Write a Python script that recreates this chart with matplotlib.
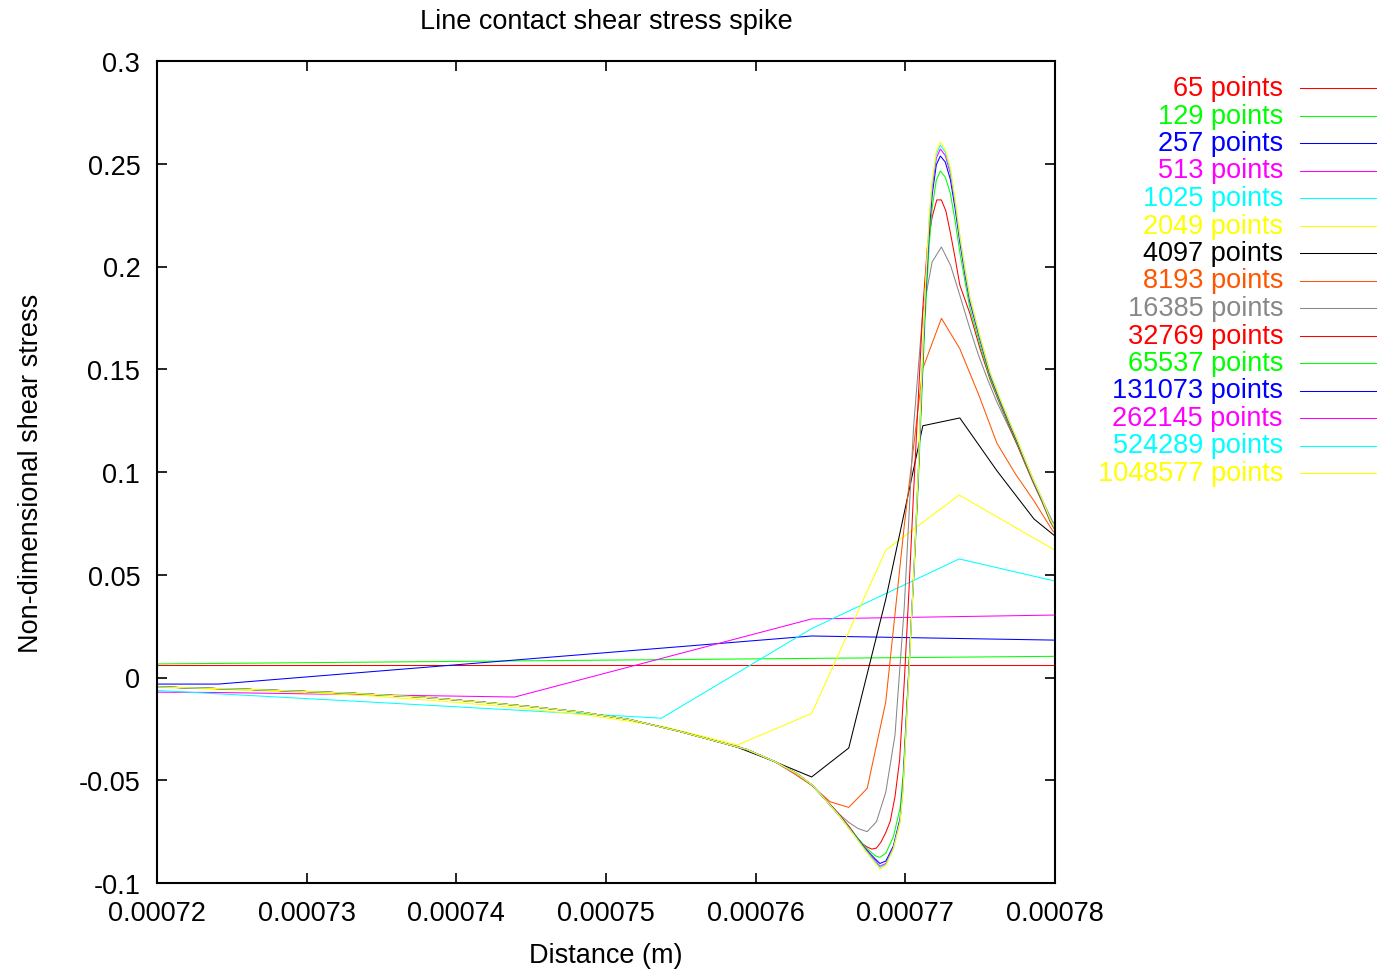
import matplotlib
matplotlib.use("Agg")
import matplotlib.pyplot as plt
from matplotlib.lines import Line2D
from matplotlib.ticker import FormatStrFormatter

plt.rcParams['font.family'] = ['Liberation Sans', 'DejaVu Sans']

# distances below are in micrometres, converted to metres when plotted
# shared approach to the spike (all fine meshes coincide here)
x_tail = [710.0, 720.0, 726.2, 732.9, 737.6, 741.6, 744.9, 748.3, 751.6, 754.9, 757.6]
y_tail = [-0.0035, -0.0046, -0.0058, -0.0076, -0.0095, -0.0119, -0.0141, -0.0168,
          -0.0205, -0.0262, -0.0315]

x_65 = [605.2, 763.74, 922.2]
y_65 = [0.0062, 0.0062, 0.0062]

x_129 = [684.5, 763.74, 842.9]
y_129 = [0.0044, 0.0093, 0.0142]

x_257 = [684.5, 724.1, 763.74, 803.4]
y_257 = [-0.0032, -0.0032, 0.0202, 0.0153]

x_513 = [684.5, 704.3, 724.1, 743.9, 763.74, 783.5]
y_513 = [-0.0058, -0.0065, -0.0073, -0.0095, 0.0285, 0.0308]

x_1025 = [704.3, 714.1, 724.0, 733.9, 743.8, 753.7, 763.74, 773.6, 783.5]
y_1025 = [-0.0010, -0.0040, -0.0079, -0.0118, -0.0158, -0.0198, 0.0238, 0.0577, 0.0410]

x_2049 = [714.2, 719.2, 724.1, 729.1, 734.0, 739.0, 743.9, 748.9, 753.8, 758.8,
          763.74, 768.7, 773.6, 778.6, 783.6]
y_2049 = [-0.0030, -0.0045, -0.0058, -0.0071, -0.0088, -0.0115, -0.0146, -0.0185,
          -0.0238, -0.0328, -0.0175, 0.0620, 0.0888, 0.0678, 0.0470]

x_4097 = [758.8, 761.28, 763.74, 766.22, 768.69, 771.17, 773.64, 776.12, 778.6, 781.07]
y_4097 = [-0.0340, -0.0410, -0.0484, -0.0343, 0.0380, 0.1225, 0.1263, 0.1006, 0.0771, 0.0625]

x_8193 = [758.8, 760.04, 761.28, 762.5, 763.74, 764.98, 766.22, 767.45, 768.69, 769.93,
          771.17, 772.41, 773.64, 774.88, 776.12, 777.36, 778.59, 779.83, 781.07]
y_8193 = [-0.0335, -0.0370, -0.0410, -0.0465, -0.0525, -0.0605, -0.0632, -0.0540, -0.0120,
          0.0740, 0.1504, 0.1748, 0.1600, 0.1380, 0.1140, 0.0990, 0.0860, 0.0715, 0.0630]

x_16385 = [759.4, 761.3, 762.8, 763.76, 764.63, 765.63, 766.22, 766.84, 767.45, 768.07,
           768.69, 769.31, 769.93, 770.55, 771.17, 771.79, 772.41, 773.03, 773.64, 774.26,
           774.88, 775.5, 776.12, 776.74, 777.36, 777.98, 778.59, 779.21, 779.83, 780.45,
           781.07]
y_16385 = [-0.0350, -0.0410, -0.0470, -0.0525, -0.0590, -0.0668, -0.0705, -0.0735, -0.0750,
           -0.0702, -0.0559, -0.0280, 0.0344, 0.1220, 0.1780, 0.2022, 0.2095, 0.2004, 0.1860,
           0.1710, 0.1570, 0.1450, 0.1340, 0.1245, 0.1150, 0.1055, 0.0955, 0.0855, 0.0760,
           0.0700, 0.0650]

x_32769 = [759.4, 761.3, 762.8, 763.76, 764.63, 765.63, 766.3, 766.84, 767.14, 767.45,
           767.76, 768.07, 768.38, 768.69, 768.99, 769.31, 769.62, 769.93, 770.24, 770.55,
           770.86, 771.17, 771.48, 771.79, 772.10, 772.41, 772.71, 773.02, 773.33, 773.64,
           774.32, 774.99, 775.66, 776.32, 776.99, 777.46, 778.0, 778.53, 779.13, 779.67,
           780.07, 781.0]
y_32769 = [-0.0350, -0.0410, -0.0470, -0.0525, -0.0590, -0.0670, -0.0730, -0.0785, -0.0810,
           -0.0825, -0.0835, -0.0830, -0.0800, -0.0755, -0.0700, -0.0580, -0.0400, -0.0020,
           0.0420, 0.0900, 0.1350, 0.1800, 0.2100, 0.2240, 0.2324, 0.2324, 0.2270, 0.2160,
           0.2040, 0.1910, 0.1770, 0.1600, 0.1450, 0.1330, 0.1215, 0.1135, 0.1040, 0.0950,
           0.0855, 0.0760, 0.0708, 0.0635]

# the finest meshes are drawn on a common set of read-off positions
x_fine = [759.4, 761.3, 762.8, 763.8, 764.6, 765.6, 766.6, 767.4, 768.0, 768.3, 768.7,
          769.2, 769.65, 769.85, 770.05, 770.19, 770.39, 770.59, 770.86, 771.06, 771.33,
          771.6, 771.8, 772.07, 772.34, 772.67, 773.01, 773.32, 773.65, 773.99, 774.32,
          774.99, 775.66, 776.32, 776.99, 777.46, 778.0, 778.53, 779.13, 779.67, 780.07, 781.0]
y_65537 = [-0.0350, -0.0410, -0.0470, -0.0525, -0.0590, -0.0672, -0.0762, -0.0830, -0.0868,
           -0.0875, -0.0855, -0.0775, -0.0635, -0.0475, -0.0200, -0.0015, 0.0255, 0.0520,
           0.0935, 0.1300, 0.1760, 0.2110, 0.2290, 0.2420, 0.2465, 0.2435, 0.2355, 0.2225,
           0.2065, 0.1925, 0.1795, 0.1620, 0.1458, 0.1337, 0.1222, 0.1143, 0.1047, 0.0955,
           0.0860, 0.0763, 0.0710, 0.0637]
y_131073 = [-0.0350, -0.0410, -0.0470, -0.0525, -0.0590, -0.0673, -0.0765, -0.0838, -0.0884,
            -0.0905, -0.0893, -0.0820, -0.0685, -0.0515, -0.0225, -0.0025, 0.0262, 0.0540,
            0.0975, 0.1355, 0.1825, 0.2180, 0.2353, 0.2495, 0.2538, 0.2508, 0.2423, 0.2285,
            0.2115, 0.1960, 0.1826, 0.1643, 0.1472, 0.1348, 0.1231, 0.1151, 0.1053, 0.0960,
            0.0865, 0.0767, 0.0712, 0.0639]
y_262145 = [-0.0350, -0.0410, -0.0470, -0.0525, -0.0590, -0.0673, -0.0766, -0.0842, -0.0892,
            -0.0918, -0.0905, -0.0828, -0.0695, -0.0530, -0.0240, -0.0040, 0.0260, 0.0548,
            0.0988, 0.1378, 0.1858, 0.2215, 0.2386, 0.2527, 0.2572, 0.2540, 0.2452, 0.2308,
            0.2133, 0.1975, 0.1838, 0.1651, 0.1478, 0.1353, 0.1235, 0.1155, 0.1056, 0.0962,
            0.0867, 0.0768, 0.0713, 0.0639]
y_524289 = [-0.0350, -0.0410, -0.0470, -0.0525, -0.0590, -0.0674, -0.0768, -0.0846, -0.0898,
            -0.0925, -0.0910, -0.0832, -0.0700, -0.0540, -0.0250, -0.0050, 0.0255, 0.0550,
            0.0995, 0.1390, 0.1875, 0.2235, 0.2405, 0.2545, 0.2591, 0.2556, 0.2467, 0.2320,
            0.2142, 0.1983, 0.1845, 0.1656, 0.1482, 0.1357, 0.1238, 0.1158, 0.1059, 0.0965,
            0.0869, 0.0770, 0.0714, 0.0640]
y_1048577 = [-0.0350, -0.0410, -0.0470, -0.0525, -0.0590, -0.0674, -0.0770, -0.0850, -0.0905,
             -0.0932, -0.0915, -0.0835, -0.0705, -0.0550, -0.0260, -0.0060, 0.0250, 0.0550,
             0.1000, 0.1400, 0.1890, 0.2250, 0.2420, 0.2560, 0.2606, 0.2570, 0.2480, 0.2330,
             0.2150, 0.1990, 0.1850, 0.1660, 0.1485, 0.1360, 0.1240, 0.1160, 0.1060, 0.0966,
             0.0870, 0.0771, 0.0715, 0.0640]

labels = ['65 points', '129 points', '257 points', '513 points', '1025 points', '2049 points',
          '4097 points', '8193 points', '16385 points', '32769 points', '65537 points',
          '131073 points', '262145 points', '524289 points', '1048577 points']
colors = ['#ff0000', '#00ff00', '#0000ff', '#ff00ff', '#00ffff', '#ffff00', '#000000',
          '#ff5500', '#888888', '#ff0000', '#00ff00', '#0000ff', '#ff00ff', '#00ffff', '#ffff00']

x_ticks = [0.00072, 0.00073, 0.00074, 0.00075, 0.00076, 0.00077, 0.00078]
y_ticks = [-0.1, -0.05, 0, 0.05, 0.1, 0.15, 0.2, 0.25, 0.3]

series = [
    (x_65, y_65), (x_129, y_129), (x_257, y_257), (x_513, y_513), (x_1025, y_1025),
    (x_2049, y_2049),
    (x_tail + x_4097, y_tail + y_4097),
    (x_tail + x_8193, y_tail + y_8193),
    (x_tail + x_16385, y_tail + y_16385),
    (x_tail + x_32769, y_tail + y_32769),
    (x_tail + x_fine, y_tail + y_65537),
    (x_tail + x_fine, y_tail + y_131073),
    (x_tail + x_fine, y_tail + y_262145),
    (x_tail + x_fine, y_tail + y_524289),
    (x_tail + x_fine, y_tail + y_1048577),
]

W, H = 1377, 970
fig = plt.figure(figsize=(W / 100, H / 100), dpi=100)
ax = fig.add_axes([157 / W, 1 - 884 / H, 898 / W, 822 / H])

for (xs, ys), c in zip(series, colors):
    ax.plot([v * 1e-6 for v in xs], ys, color=c, lw=0.75, solid_joinstyle='miter')

ax.set_xlim(0.00072, 0.00078)
ax.set_ylim(-0.1, 0.3)
ax.set_xticks(x_ticks)
ax.set_yticks(y_ticks)
ax.xaxis.set_major_formatter(FormatStrFormatter('%g'))
ax.yaxis.set_major_formatter(FormatStrFormatter('%g'))
ax.tick_params(direction='in', length=7, width=1.2, top=True, right=True,
               labelsize=19.5)
ax.tick_params(axis='x', pad=12)
ax.tick_params(axis='y', pad=12)
for s in ax.spines.values():
    s.set_linewidth(1.5)

ax.set_title('Line contact shear stress spike', fontsize=19.5, pad=24)
ax.set_xlabel('Distance (m)', fontsize=19.5, labelpad=12)
ax.set_ylabel('Non-dimensional shear stress', fontsize=19.5, labelpad=25)

# key, drawn in gnuplot style to the right of the plot
for i, (lab, c) in enumerate(zip(labels, colors)):
    yp = 1 - (89 + 27.5 * i) / H
    fig.text(1283 / W, yp, lab, color=c, fontsize=19.5, ha='right', va='center')
    fig.add_artist(Line2D([1300 / W, 1377 / W], [yp, yp], color=c, lw=0.75,
                          transform=fig.transFigure))

fig.savefig('out.png', dpi=100)
